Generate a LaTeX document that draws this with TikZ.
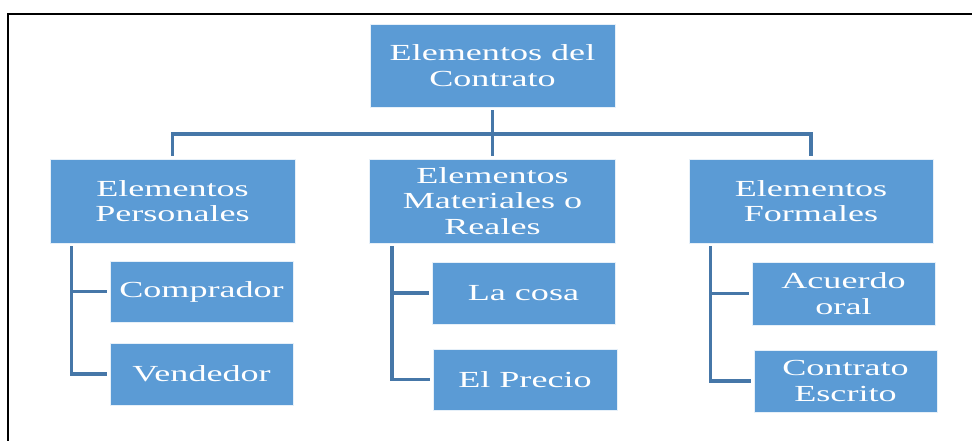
\documentclass[tikz,border=0pt]{standalone}
\usepackage{fontspec}
\setmainfont{Liberation Serif}[FakeStretch=1.57]
\definecolor{boxblue}{HTML}{5B9BD5}
\definecolor{linkblue}{HTML}{4677A8}
\begin{document}
\begin{tikzpicture}[x=1pt,y=-1pt,
  box/.style={rectangle, fill=boxblue, draw=white!85!boxblue, line width=0.8pt,
    text=white, align=center, inner sep=0pt,
    font=\fontsize{23}{25.5}\selectfont},
  link/.style={draw=linkblue, line width=3.6pt}
]
\useasboundingbox (0,0) rectangle (972,440);
% frame (cut by the page edges)
\draw[line width=2.6pt] (8,460) -- (8,14) -- (990,14);

% nodes
\node[box, minimum width=245pt, minimum height=83pt] (top) at (492.5,65.5) {Elementos del\\Contrato};
\node[box, minimum width=245pt, minimum height=84pt] (l1) at (172.5,201) {Elementos\\Personales};
\node[box, minimum width=246pt, minimum height=84pt] (m1) at (492.5,201) {Elementos\\Materiales o\\Reales};
\node[box, minimum width=244pt, minimum height=84pt] (r1) at (811,201) {Elementos\\Formales};

\node[box, minimum width=183pt, minimum height=61pt] (comp) at (201.5,291.5) {Comprador};
\node[box, minimum width=183pt, minimum height=62pt] (vend) at (201.5,374) {Vendedor};
\node[box, minimum width=183pt, minimum height=62pt] (cosa) at (523.5,293) {La cosa};
\node[box, minimum width=184pt, minimum height=61pt] (prec) at (525,379.5) {El Precio};
\node[box, minimum width=183pt, minimum height=63pt] (acu) at (843.5,293.5) {Acuerdo\\oral};
\node[box, minimum width=183pt, minimum height=62pt] (esc) at (845.5,381) {Contrato\\Escrito};

% top-level connectors
\coordinate (j) at (492.5,134);
\draw[link, shorten <=3pt] (top.south) -- (j);
\draw[link, shorten >=3pt] (j) -- (m1.north);
\draw[link, shorten >=3pt] (j) -| (l1.north);
\draw[link, shorten >=3pt] (j) -| (r1.north);

% child connectors
\draw[link, shorten <=3pt, shorten >=3pt] ([xshift=22pt]l1.south west) |- (comp.west);
\draw[link, shorten <=3pt, shorten >=3pt] ([xshift=22pt]l1.south west) |- (vend.west);
\draw[link, shorten <=3pt, shorten >=3pt] ([xshift=23pt]m1.south west) |- (cosa.west);
\draw[link, shorten <=3pt, shorten >=3pt] ([xshift=23pt]m1.south west) |- (prec.west);
\draw[link, shorten <=3pt, shorten >=3pt] ([xshift=22pt]r1.south west) |- (acu.west);
\draw[link, shorten <=3pt, shorten >=3pt] ([xshift=22pt]r1.south west) |- (esc.west);
\end{tikzpicture}
\end{document}
